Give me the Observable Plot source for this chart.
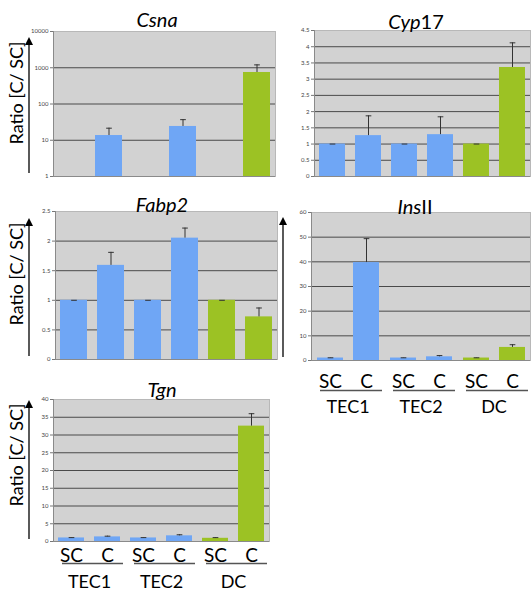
<!DOCTYPE html>
<html><head><meta charset="utf-8">
<script src="https://cdn.jsdelivr.net/npm/d3@7"></script>
<script src="https://cdn.jsdelivr.net/npm/@observablehq/plot@0.6"></script>
<style>
body{margin:0;background:#fff;}
#root{position:relative;width:531px;height:594px;overflow:hidden;font-family:Lato,"Open Sans",sans-serif;background:#fff;}
.panel{position:absolute;}
.title{position:absolute;font-size:20px;line-height:20px;transform:translate(-50%,0);white-space:nowrap;color:#000;}
.ylab{position:absolute;font-size:18px;line-height:18px;transform:translate(-50%,-50%) rotate(-90deg);white-space:nowrap;color:#000;}
#deco{position:absolute;left:0;top:0;pointer-events:none;}
</style></head><body><div id="root"></div>
<script>
// ---- data ----
const groups = ["TEC1", "TEC2", "DC"];
const conds = ["SC", "C"];
const csnaValues  = [1, 13.5, 1, 24, 1, 740];
const csnaErrors  = [1, 21.5, 1, 37, 1, 1200];
const cyp17Values = [1, 1.26, 1, 1.29, 1, 3.36];
const cyp17Errors = [1, 1.87, 1, 1.84, 1, 4.12];
const fabp2Values = [1, 1.59, 1, 2.05, 1, 0.72];
const fabp2Errors = [1, 1.81, 1, 2.22, 1, 0.87];
const ins2Values  = [1, 39.7, 1, 1.5, 1, 5.3];
const ins2Errors  = [1.1, 49.4, 1.1, 2.0, 1.1, 6.4];
const tgnValues   = [1, 1.3, 1, 1.6, 0.9, 32.5];
const tgnErrors   = [1.1, 1.5, 1.1, 1.9, 1.1, 36];
const csnaTicks  = [1, 10, 100, 1000, 10000];
const cyp17Ticks = [0, 0.5, 1, 1.5, 2, 2.5, 3, 3.5, 4, 4.5];
const fabp2Ticks = [0, 0.5, 1, 1.5, 2, 2.5];
const ins2Ticks  = [0, 10, 20, 30, 40, 50, 60];
const tgnTicks   = [0, 5, 10, 15, 20, 25, 30, 35, 40];
const yLabel = "Ratio [C/ SC]";

// ---- styles ----
const blue = "#6fa6f5", green = "#9cc224", bg = "#d2d2d2", gridColor = "#4a4a4a", errColor = "#333";

function rows(values, errors) {
  return groups.flatMap((g, i) => conds.map((c, j) => ({group: g, cond: c, value: values[i * 2 + j], err: errors[i * 2 + j]})));
}
const capSymbol = {draw(ctx, size) { const w = Math.sqrt(size); ctx.moveTo(-w, 0); ctx.lineTo(w, 0); }};

const root = document.getElementById("root");

function panel({values, errors, ticks, log, L, T, R, B, labels}) {
  const data = rows(values, errors);
  const mL = 30, mR = 2, mT = 4, mB = labels ? labels.mB : 6;
  const base = ticks[0];
  const top = ticks[ticks.length - 1];
  const marks = [
    Plot.frame({fill: bg, shapeRendering: "crispEdges"}),
    Plot.frame({anchor: "top", stroke: "#b8b8b8", shapeRendering: "crispEdges"}),
    Plot.gridY({ticks: ticks.slice(1, -1), stroke: gridColor, strokeOpacity: 1, strokeWidth: 1}),
    Plot.frame({anchor: "left", facetAnchor: "left", stroke: "#8a8a8a", shapeRendering: "crispEdges"}),
    Plot.frame({anchor: "right", facetAnchor: "right", stroke: "#b8b8b8", shapeRendering: "crispEdges"}),
    Plot.ruleY([base], {stroke: "#8a8a8a"}),
    Plot.axisY({ticks, tickSize: 3, tickPadding: 2, fontSize: 6, tickFormat: d => String(d), stroke: "#777", fill: "#444", label: null}),
    Plot.barY(data, {fx: "group", x: "cond", y1: base, y2: "value", fill: "group"}),
    Plot.ruleX(data, {fx: "group", x: "cond", y1: "value", y2: "err", stroke: errColor, strokeWidth: 1}),
    Plot.dot(data.filter(d => d.err > base), {fx: "group", x: "cond", y: "err", symbol: capSymbol, r: 1.6, stroke: errColor, fill: "none", strokeWidth: 1})
  ];
  if (labels) {
    marks.push(
      Plot.text(data, {fx: "group", x: "cond", text: "cond", frameAnchor: "bottom", lineAnchor: "bottom", dy: labels.condDy, fontSize: 19, fill: "#000"}),
      Plot.ruleY([base], {dy: labels.lineDy, insetLeft: 9, insetRight: 2, stroke: "#555", strokeWidth: 1.6}),
      Plot.text(groups, {fx: d => d, text: d => d, frameAnchor: "bottom", lineAnchor: "bottom", dy: labels.groupDy, fontSize: 18, fill: "#000"})
    );
  }
  const chart = Plot.plot({
    width: R - L + mL + mR,
    height: B - T + mT + mB,
    marginLeft: mL, marginRight: mR, marginTop: mT, marginBottom: mB,
    style: {fontFamily: "Lato, 'Open Sans', sans-serif", background: "transparent", overflow: "visible"},
    fx: {domain: groups, padding: 0, axis: null},
    x: {domain: conds, paddingInner: 0.28, paddingOuter: 0.14, axis: null},
    y: log ? {type: "log", domain: [base, top], axis: null} : {domain: [base, top], axis: null},
    color: {domain: groups, range: [blue, blue, green]},
    marks
  });
  chart.classList.add("panel");
  chart.style.left = (L - mL) + "px";
  chart.style.top = (T - mT) + "px";
  root.appendChild(chart);
}

panel({values: csnaValues, errors: csnaErrors, ticks: csnaTicks, log: true, L: 53, T: 31, R: 275, B: 176});
panel({values: cyp17Values, errors: cyp17Errors, ticks: cyp17Ticks, L: 314, T: 30, R: 530, B: 176});
panel({values: fabp2Values, errors: fabp2Errors, ticks: fabp2Ticks, L: 55, T: 211, R: 277, B: 359});
panel({values: ins2Values, errors: ins2Errors, ticks: ins2Ticks, L: 311, T: 212, R: 530, B: 360,
       labels: {mB: 60, condDy: 27, lineDy: 30, groupDy: 52}});
panel({values: tgnValues, errors: tgnErrors, ticks: tgnTicks, L: 53, T: 399, R: 269, B: 541,
       labels: {mB: 53, condDy: 20, lineDy: 22, groupDy: 46}});

// titles
const titles = [
  {html: "<i>Csna</i>", x: 157, y: 9},
  {html: "<i>Cyp</i>17", x: 416, y: 11},
  {html: "<i>Fabp2</i>", x: 162, y: 194},
  {html: "<i>Ins</i>II", x: 415, y: 196},
  {html: "<i>Tgn</i>", x: 162, y: 379}
];
for (const t of titles) {
  const d = document.createElement("div");
  d.className = "title"; d.innerHTML = t.html;
  d.style.left = t.x + "px"; d.style.top = t.y + "px";
  root.appendChild(d);
}
// y labels
for (const [x, y] of [[16, 93], [16, 274], [16, 455]]) {
  const d = document.createElement("div");
  d.className = "ylab"; d.textContent = yLabel;
  d.style.left = x + "px"; d.style.top = y + "px";
  root.appendChild(d);
}
// arrows
const ns = "http://www.w3.org/2000/svg";
const deco = document.createElementNS(ns, "svg");
deco.setAttribute("id", "deco"); deco.setAttribute("width", 531); deco.setAttribute("height", 594);
for (const [x, y1, y2] of [[29, 173, 37], [29, 356, 218], [29, 539, 400], [283, 357, 217]]) {
  const l = document.createElementNS(ns, "line");
  l.setAttribute("x1", x); l.setAttribute("x2", x); l.setAttribute("y1", y1); l.setAttribute("y2", y2 + 6);
  l.setAttribute("stroke", "#000"); l.setAttribute("stroke-width", 1.3);
  deco.appendChild(l);
  const p = document.createElementNS(ns, "path");
  p.setAttribute("d", `M${x},${y2} L${x - 4},${y2 + 8} L${x + 4},${y2 + 8} Z`);
  p.setAttribute("fill", "#000");
  deco.appendChild(p);
}
root.appendChild(deco);
</script></body></html>
